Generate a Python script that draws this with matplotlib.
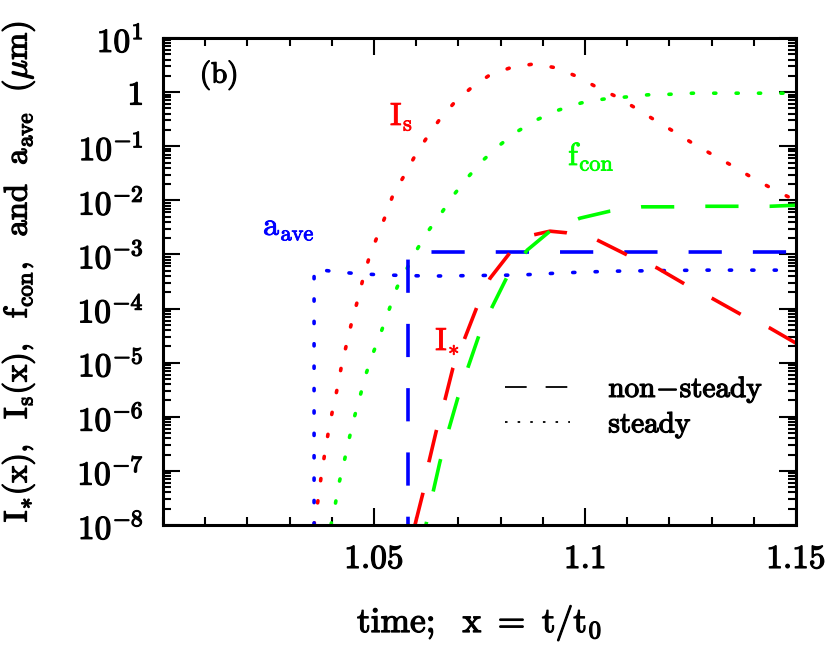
import numpy as np
import matplotlib
matplotlib.use("Agg")
import matplotlib.pyplot as plt
import matplotlib.patheffects as pe
from matplotlib.ticker import FixedLocator, FuncFormatter, LogLocator, NullFormatter, MultipleLocator
from matplotlib.lines import Line2D

plt.rcParams['mathtext.fontset'] = 'cm'
plt.rcParams['font.family'] = ['DejaVu Serif']

# ---- data (log10 values) ----
# steady I_s (red dotted)
is_x = [1.0358, 1.0367, 1.0374, 1.0382, 1.0391, 1.0401, 1.0412, 1.0422, 1.0434, 1.0446,
        1.0460, 1.0474, 1.0488, 1.0507, 1.0526, 1.0545, 1.0571, 1.0597, 1.0626, 1.0656,
        1.0692, 1.0732, 1.0775, 1.0827, 1.0879, 1.0931, 1.0984, 1.1028, 1.1076, 1.1123,
        1.1168, 1.1213, 1.1258, 1.1303, 1.1351, 1.1398, 1.1445, 1.1493, 1.1500]
is_lg = [-8.00, -7.56, -7.15, -6.74, -6.32, -5.91, -5.51, -5.10, -4.69, -4.29,
         -3.88, -3.45, -3.07, -2.68, -2.31, -1.90, -1.55, -1.18, -0.83, -0.50,
         -0.18, 0.09, 0.32, 0.46, 0.52, 0.45, 0.28, 0.09, -0.09, -0.31,
         -0.53, -0.74, -0.96, -1.16, -1.37, -1.59, -1.79, -1.98, -2.00]

# steady f_con (green dotted)
fs_x = [1.0398, 1.0408, 1.0417, 1.0429, 1.0441, 1.0453, 1.0467, 1.0481, 1.0498, 1.0517,
        1.0555, 1.0604, 1.0630, 1.0661, 1.0692, 1.0725, 1.0761, 1.0801, 1.0841, 1.0889,
        1.0938, 1.0991, 1.1043, 1.1097, 1.1149, 1.1201, 1.1256, 1.1308, 1.1415, 1.1469, 1.1500]
fs_lg = [-8.00, -7.63, -7.23, -6.84, -6.41, -6.02, -5.62, -5.21, -4.82, -4.43,
         -3.60, -2.88, -2.55, -2.22, -1.87, -1.55, -1.24, -0.96, -0.72, -0.50,
         -0.33, -0.20, -0.13, -0.09, -0.05, -0.04, -0.02, -0.02, -0.02, -0.02, -0.02]

# steady a_ave (blue dotted)
as_x = [1.0358, 1.0358, 1.0420, 1.0472, 1.0526, 1.0633, 1.0846, 1.0948, 1.1059, 1.1273, 1.1486, 1.1500]
as_lg = [-8.00, -3.27, -3.33, -3.36, -3.38, -3.40, -3.38, -3.34, -3.31, -3.29, -3.29, -3.29]

# non-steady I_* (red dashed)
in_x = [1.0597, 1.0616, 1.0630, 1.0647, 1.0668, 1.0687, 1.0716, 1.0732, 1.0744, 1.0775,
        1.0822, 1.0877, 1.0917, 1.0957, 1.1028, 1.1100, 1.1171, 1.1237, 1.1301, 1.1372,
        1.1438, 1.1500]
in_lg = [-8.00, -7.41, -6.84, -6.28, -5.69, -5.10, -4.53, -4.21, -3.97, -3.44,
         -2.97, -2.64, -2.57, -2.60, -2.73, -3.01, -3.25, -3.55, -3.81, -4.12,
         -4.36, -4.64]

# non-steady f_con (green dashed)
fn_x = [1.0623, 1.0640, 1.0656, 1.0678, 1.0699, 1.0723, 1.0749, 1.0780, 1.0815, 1.0863,
        1.0917, 1.0988, 1.1059, 1.1135, 1.1209, 1.1289, 1.1367, 1.1438, 1.1500]
fn_lg = [-8.00, -7.39, -6.84, -6.21, -5.64, -5.08, -4.49, -3.97, -3.42, -2.92,
         -2.57, -2.33, -2.20, -2.12, -2.12, -2.11, -2.11, -2.11, -2.09]

# non-steady a_ave (blue dashed)
an_x = [1.0580, 1.0580, 1.1500]
an_lg = [-8.00, -2.96, -2.96]

xt = [1.05, 1.10, 1.15]
xt_labels = ['1.05', '1.1', '1.15']

RED, GREEN, BLUE = '#ff0000', '#00ff00', '#0000ff'

fig = plt.figure(figsize=(8.30, 6.47), dpi=100)
ax = fig.add_axes([163/830, 1-525/647, (796-163)/830, (525-38)/647])

lw = 2.6
dot = (0, (0.6, 5.6))
kw_dot = dict(lw=lw, linestyle=dot, dash_capstyle='round', solid_capstyle='round')

def dash(off):
    return dict(lw=lw, linestyle=(off, (9.2, 8.6)), dash_capstyle='butt')

ax.plot(is_x, 10**np.array(is_lg), color=RED, **kw_dot)
ax.plot(fs_x, 10**np.array(fs_lg), color=GREEN, **kw_dot)
ax.plot(as_x, 10**np.array(as_lg), color=BLUE, **kw_dot)
ax.plot(an_x, 10**np.array(an_lg), color=BLUE, **dash(6.9))
ax.plot(in_x, 10**np.array(in_lg), color=RED, **dash(0.0))
ax.plot(fn_x, 10**np.array(fn_lg), color=GREEN, **dash(8.3))

ax.set_yscale('log')
ax.set_xlim(1.0, 1.15)
ax.set_ylim(1e-8, 10)

ax.xaxis.set_major_locator(FixedLocator(xt))
ax.set_xticklabels([r'$%s$' % s for s in xt_labels])
ax.xaxis.set_minor_locator(MultipleLocator(0.01))

def yfmt(v, pos):
    e = int(round(np.log10(v)))
    if e == 0:
        return r'$1$'
    return r'$10^{%d}$' % e
ax.yaxis.set_major_locator(LogLocator(base=10, numticks=20))
ax.yaxis.set_major_formatter(FuncFormatter(yfmt))
ax.yaxis.set_minor_locator(LogLocator(base=10, subs=np.arange(2, 10), numticks=20))
ax.yaxis.set_minor_formatter(NullFormatter())

ax.tick_params(which='both', direction='in', top=True, right=True, width=1.5, labelsize=24)
ax.tick_params(which='major', length=12)
ax.tick_params(which='minor', length=6)
ax.tick_params(axis='x', pad=13)
ax.tick_params(axis='y', pad=14)
for s in ax.spines.values():
    s.set_linewidth(2.2)

heavy = [pe.withStroke(linewidth=0.9, foreground='black')]

ax.set_xlabel(r'$\mathrm{time;\ \ x\ =\ t/t_0}$', fontsize=25.5)
ax.xaxis.set_label_coords(0.5, (525-603)/487)
ax.xaxis.label.set_va('top')
ax.set_ylabel(r'$\mathrm{I_{*}(x),\ \ I_s(x),\ \ f_{con},\ \ and\ \ a_{ave}\ \ (\mu m)}$',
              fontsize=23.5)
ax.yaxis.set_label_coords((37-163)/633, 0.52)

for t in ax.get_xticklabels() + ax.get_yticklabels() + [ax.xaxis.label, ax.yaxis.label]:
    t.set_path_effects(heavy)

ax.text(0.058, 0.924, r'$\mathrm{(b)}$', transform=ax.transAxes, fontsize=21, va='center',
        path_effects=heavy)

def lab(x, y, s, c):
    ax.text(x, y, s, color=c, fontsize=23, ha='left', va='baseline',
            path_effects=[pe.withStroke(linewidth=0.6, foreground=c)])

lab(1.0538, 0.245, r'$\mathrm{I_s}$', RED)
lab(1.0237, 2.3e-3, r'$\mathrm{a_{ave}}$', BLUE)
lab(1.0960, 4.47e-2, r'$\mathrm{f_{con}}$', GREEN)
lab(1.0645, 1.7e-5, r'$\mathrm{I_{*}}$', RED)

handles = [Line2D([], [], color='black', lw=1.3, linestyle=(0, (12, 10.5))),
           Line2D([], [], color='black', lw=1.3, linestyle=(0, (1.4, 5.6)))]
leg = ax.legend(handles, [r'$\mathrm{non\!-\!steady}$', r'$\mathrm{steady}$'],
                loc='upper left', bbox_to_anchor=(0.54, 0.31), frameon=False,
                fontsize=21, handlelength=2.25, handletextpad=1.3, labelspacing=0.15,
                borderaxespad=0.0, borderpad=0.0)
for t in leg.get_texts():
    t.set_path_effects(heavy)

fig.savefig('out.png', dpi=100)
